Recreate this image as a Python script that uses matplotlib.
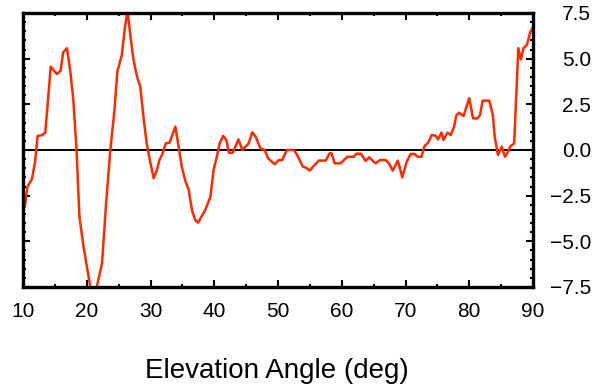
import matplotlib
matplotlib.use('Agg')
import matplotlib.pyplot as plt
from matplotlib.ticker import MultipleLocator

# elevation angle (deg) and value
ELEV = [10.3, 10.7, 11.4, 11.9, 12.3, 12.9, 13.5, 14.35, 15.3, 15.9,
        16.3, 16.9, 17.4, 17.9, 18.4, 18.85, 19.5, 21.0, 22.4, 23.0,
        23.7, 24.35, 24.8, 25.5, 26.0, 26.4, 26.8, 27.3, 27.9, 28.4,
        28.9, 29.4, 30.0, 30.5, 31.0, 31.4, 31.9, 32.4, 33.0, 33.9,
        34.5, 34.9, 35.5, 36.0, 36.5, 37.0, 37.45, 38.0, 38.6, 39.4,
        39.9, 40.4, 40.85, 41.4, 41.9, 42.3, 42.9, 43.8, 44.4, 45.4,
        45.95, 46.5, 47.25, 47.9, 48.45, 49.5, 50.1, 50.65, 51.4, 52.5,
        53.0, 53.9, 54.4, 55.0, 55.5, 56.4, 57.5, 58.1, 58.4, 58.9,
        59.8, 60.9, 61.9, 62.3, 63.0, 63.75, 64.3, 65.3, 66.0, 66.9,
        67.4, 68.0, 68.8, 69.5, 70.2, 70.8, 71.45, 71.9, 72.5, 73.0,
        73.55, 74.1, 74.75, 75.1, 75.65, 75.96, 76.6, 77.1, 77.6, 78.0,
        78.4, 79.1, 80.0, 80.6, 81.3, 81.7, 82.1, 83.15, 83.7, 84.0,
        84.5, 85.1, 85.6, 86.0, 86.5, 87.05, 87.7, 88.1, 88.5, 89.05,
        89.6, 90.0]
VALUE = [-3.1, -2.0, -1.6, -0.64, 0.77, 0.8, 0.95, 4.56, 4.16, 4.34,
         5.35, 5.57, 4.38, 2.74, 0.0, -3.65, -5.3, -8.4, -6.2, -3.1,
         0.0, 2.19, 4.29, 5.2, 6.75, 7.6, 6.4, 5.0, 4.0, 3.47,
         1.8, 0.36, -0.73, -1.55, -1.1, -0.55, -0.18, 0.36, 0.4, 1.28,
         0.0, -0.9, -1.73, -2.19, -3.28, -3.83, -3.98, -3.65, -3.28, -2.56,
         -1.1, -0.37, 0.36, 0.77, 0.55, -0.15, -0.15, 0.58, 0.0, 0.36,
         0.97, 0.73, 0.09, 0.0, -0.46, -0.78, -0.55, -0.55, 0.0, 0.0,
         -0.27, -0.91, -0.97, -1.13, -0.91, -0.58, -0.58, -0.18, -0.18, -0.73,
         -0.73, -0.37, -0.37, -0.2, -0.2, -0.6, -0.4, -0.73, -0.55, -0.55,
         -0.73, -1.13, -0.58, -1.5, -0.64, -0.22, -0.22, -0.37, -0.37, 0.22,
         0.4, 0.82, 0.78, 0.58, 0.95, 0.55, 0.95, 0.82, 1.24, 1.92,
         2.04, 1.86, 2.83, 1.73, 1.73, 1.92, 2.7, 2.7, 1.92, 0.73,
         -0.27, 0.18, -0.37, -0.15, 0.22, 0.36, 5.57, 4.96, 5.57, 5.75,
         6.48, 6.7]

plt.rcParams['font.family'] = ['Liberation Sans', 'DejaVu Sans']

fig = plt.figure(figsize=(5.96, 3.92), dpi=100)
ax = fig.add_axes([23 / 596, 1 - 287 / 392, (533 - 23) / 596, (287 - 13) / 392])

ax.axhline(0, color='black', linewidth=1.4, zorder=1)
ax.plot(ELEV, VALUE, color='#ff2a00', linewidth=1.8, zorder=2)

ax.set_xlim(10, 90)
ax.set_ylim(-7.5, 7.5)

ax.xaxis.set_major_locator(MultipleLocator(10))
ax.xaxis.set_minor_locator(MultipleLocator(5))
ax.yaxis.set_major_locator(MultipleLocator(2.5))
ax.yaxis.set_minor_locator(MultipleLocator(0.5))
ax.yaxis.set_major_formatter(plt.FuncFormatter(lambda v, p: ('%.1f' % v).replace('-', '\u2212')))

ax.tick_params(which='both', direction='in', top=True, right=True,
               left=True, bottom=True, labelleft=False, labelright=True,
               width=1.5, color='black')
ax.tick_params(which='major', length=5)
ax.tick_params(which='minor', length=2.5)
ax.tick_params(axis='x', which='major', labelsize=15, pad=10.5)
ax.tick_params(axis='y', which='major', labelsize=15, pad=42)

for s in ax.spines.values():
    s.set_linewidth(2.4)

fig.text(277 / 596, 1 - 371 / 392, 'Elevation Angle (deg)', fontsize=20,
         ha='center', va='center')

# right-hand labels are right-aligned, as in the reference
fig.canvas.draw()
for tick in ax.yaxis.get_major_ticks():
    tick.label2.set_horizontalalignment('right')

fig.savefig('out.png', dpi=100)
